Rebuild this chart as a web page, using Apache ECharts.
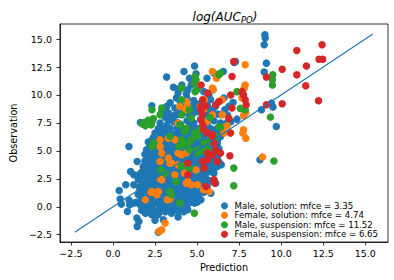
<!DOCTYPE html>
<html><head><meta charset="utf-8">
<script src="https://cdn.jsdelivr.net/npm/echarts@6/dist/echarts.min.js"></script>
<style>html,body{margin:0;padding:0;background:#fff}#c{width:394px;height:280px}</style>
</head><body><div id="c"></div>
<script>
const seriesNames = [
  'Male, solution: mfce = 3.35',
  'Female, solution: mfce = 4.74',
  'Male, suspension: mfce = 11.52',
  'Female, suspension: mfce = 6.65'
];
const tickValues = [-2.5, 0, 2.5, 5, 7.5, 10, 12.5, 15];
const diagLine = [-2.27, 15.45];

const maleSolution = [
  [9.03,15.38],[9.05,15.1],[8.99,14.49],[9.12,12.85],[8.99,12.05],[7.28,13.0],[7.2,12.9],[4.85,12.6],[4.22,12.1],[4.94,11.9],[3.19,11.6],[4.55,11.5],[5.59,11.5],[5.97,12.0],[6.56,12.1],
  [8.74,4.2],[8.83,8.68],[9.42,9.27],[9.51,8.92],[9.71,7.18],[0.95,5.39],[1.63,7.54],[2.31,9.03],
  [3.97,10.6],[3.87,10.17],[4.45,10.47],[4.36,10.1],[4.65,10.9],[5.95,10.47],[5.4,10.3],[5.7,10.0],[3.6,10.7],[4.1,10.9],
  [3.77,9.72],[3.4,9.3],[4.0,9.4],[4.4,9.7],[4.8,9.5],[5.1,9.2],[6.6,9.72],[7.14,9.33],[6.3,9.4],[5.8,9.6],[3.68,8.83],[4.2,9.0],[4.7,9.0],[5.6,9.1],[6.1,9.0],[6.9,9.0],[3.19,8.97],
  [2.9,8.5],[3.3,8.4],[3.7,8.2],[4.1,8.6],[4.5,8.3],[5.0,8.5],[5.4,8.2],[5.9,8.6],[6.2,8.3],[6.65,8.68],[6.8,8.2],[3.1,8.0],[3.5,7.9],
  [3.0,8.8],[3.9,8.8],[4.9,8.8],[5.7,8.8],[3.9,8.25],[4.7,8.25],[5.6,8.25],[6.4,8.25],
  [3.29,7.78],[2.8,7.5],[3.2,7.3],[3.6,7.6],[4.0,7.4],[4.4,7.7],[4.8,7.5],[5.2,7.8],[5.6,7.4],[6.0,7.7],[6.4,7.5],[7.37,7.84],[7.0,7.6],[6.6,7.2],[2.7,7.0],[3.0,7.0],
  [3.4,7.0],[3.8,7.0],[4.2,7.0],[4.6,7.0],[5.0,7.0],[5.4,7.0],[5.8,7.0],[6.2,7.0],[3.8,7.55],[4.6,7.55],[5.4,7.55],[6.8,7.55],
  [2.9,6.89],[2.5,6.6],[2.9,6.4],[3.3,6.7],[3.7,6.5],[4.1,6.9],[4.5,6.6],[4.9,6.8],[5.3,6.5],[5.7,6.9],[6.1,6.6],[6.4,6.29],[6.5,6.9],[2.4,6.2],[3.1,6.1],[3.5,6.2],
  [2.7,6.45],[3.1,6.45],[3.5,6.45],[3.9,6.45],[4.3,6.45],[4.7,6.45],[5.1,6.45],[5.5,6.45],[5.9,6.45],[6.3,6.45],
  [2.3,5.95],[2.6,5.95],[3.0,5.95],[3.4,5.95],[3.8,5.95],[4.2,5.95],[4.6,5.95],[5.0,5.95],[5.4,5.95],[5.8,5.95],[6.2,5.95],
  [2.1,5.8],[2.4,5.5],[2.8,5.7],[3.2,5.5],[3.6,5.8],[4.0,5.6],[4.4,5.9],[4.8,5.5],[5.2,5.8],[5.6,5.5],[6.0,5.8],[6.21,5.7],[6.3,5.2],[2.0,5.1],[2.6,5.1],[3.0,5.2],[3.4,5.1],[3.8,5.3],[4.2,5.1],[4.6,5.3],[5.0,5.1],[5.4,5.2],[5.8,5.1],
  [2.2,5.45],[2.6,5.45],[3.0,5.45],[3.4,5.45],[3.8,5.45],[4.2,5.45],[4.6,5.45],[5.0,5.45],[5.4,5.45],[5.8,5.45],
  [2.1,4.9],[2.5,4.9],[2.9,4.9],[3.3,4.9],[3.7,4.9],[4.1,4.9],[4.5,4.9],[4.9,4.9],[5.3,4.9],[5.7,4.9],[6.1,4.9],
  [1.9,4.7],[2.3,4.5],[2.7,4.8],[3.1,4.6],[3.5,4.8],[3.9,4.5],[4.3,4.7],[4.7,4.5],[5.1,4.7],[5.5,4.5],[5.9,4.8],[6.2,4.4],[1.44,4.05],[1.9,4.1],[2.3,4.2],[2.7,4.0],[3.1,4.2],[3.5,4.0],[3.9,4.2],[4.3,4.0],[4.7,4.2],[5.1,4.0],[5.5,4.2],[5.9,4.0],[6.3,4.0],
  [2.1,4.45],[2.5,4.45],[2.9,4.45],[3.3,4.45],[3.7,4.45],[4.1,4.45],[4.5,4.45],[4.9,4.45],[5.3,4.45],[5.7,4.45],[6.1,4.45],
  [2.0,3.9],[2.4,3.9],[2.8,3.9],[3.2,3.9],[3.6,3.9],[4.0,3.9],[4.4,3.9],[4.8,3.9],[5.2,3.9],[5.6,3.9],[6.0,3.9],
  [6.44,3.76],[1.8,3.6],[2.2,3.8],[2.6,3.5],[3.0,3.7],[3.4,3.5],[3.8,3.7],[4.2,3.5],[4.6,3.7],[5.0,3.5],[5.4,3.7],[5.8,3.5],[6.2,3.6],[1.05,3.16],[1.24,2.86],[1.7,3.1],[2.1,3.2],[2.5,3.0],[2.9,3.2],[3.3,3.0],[3.7,3.2],[4.1,3.0],[4.5,3.2],[4.9,3.0],[5.3,3.2],[5.72,3.16],[6.0,3.0],
  [2.0,3.4],[2.4,3.4],[2.8,3.4],[3.2,3.4],[3.6,3.4],[4.0,3.4],[4.4,3.4],[4.8,3.4],[5.2,3.4],[5.6,3.4],[6.0,3.4],
  [1.5,2.85],[1.9,2.85],[2.3,2.85],[2.7,2.85],[3.1,2.85],[3.5,2.85],[3.9,2.85],[4.3,2.85],[4.7,2.85],[5.1,2.85],[5.5,2.85],
  [1.5,2.47],[1.9,2.7],[2.3,2.5],[2.7,2.7],[3.1,2.5],[3.5,2.7],[3.9,2.5],[4.3,2.7],[4.7,2.5],[5.1,2.7],[5.5,2.5],[5.91,2.27],[0.76,1.97],[1.24,1.97],[1.8,2.1],[2.2,2.2],[2.6,2.0],[3.0,2.2],[3.4,2.0],[3.8,2.2],[4.2,2.0],[4.6,2.2],[5.0,2.0],[5.4,2.1],[6.1,2.1],
  [1.7,2.35],[2.1,2.35],[2.5,2.35],[2.9,2.35],[3.3,2.35],[3.7,2.35],[4.1,2.35],[4.5,2.35],[4.9,2.35],[5.3,2.35],[5.7,2.35],
  [1.6,1.8],[2.0,1.8],[2.4,1.8],[2.8,1.8],[3.2,1.8],[3.6,1.8],[4.0,1.8],[4.4,1.8],[4.8,1.8],[5.2,1.8],[5.6,1.8],
  [0.37,1.46],[1.6,1.6],[2.0,1.5],[2.4,1.7],[2.8,1.5],[3.2,1.7],[3.6,1.5],[4.0,1.7],[4.4,1.5],[4.8,1.7],[5.2,1.5],[5.82,1.22],[1.5,1.1],[1.9,1.1],[2.3,1.0],[2.7,1.1],[3.1,1.0],[3.5,1.1],[3.9,1.0],[4.3,1.1],[4.84,0.92],[5.0,1.2],
  [1.8,1.3],[2.2,1.3],[2.6,1.3],[3.0,1.3],[3.4,1.3],[3.8,1.3],[4.2,1.3],[4.6,1.3],[5.4,1.3],
  [1.7,0.85],[2.1,0.85],[2.5,0.85],[2.9,0.85],[3.3,0.85],[3.7,0.85],[4.1,0.85],[4.5,0.85],[5.1,0.85],
  [0.43,0.69],[0.95,0.6],[1.73,0.63],[2.1,0.6],[2.5,0.5],[2.9,0.6],[3.3,0.5],[3.7,0.6],[4.1,0.5],[4.5,0.6],[5.23,0.63],[0.5,0.24],[0.99,0.18],[1.24,0.33],[1.6,0.2],[2.0,0.1],[2.4,0.2],[2.8,0.1],[3.2,0.2],[3.6,0.1],[4.0,0.2],[4.4,0.1],[4.85,0.33],
  [1.4,0.4],[1.8,0.4],[2.2,0.4],[2.6,0.4],[3.0,0.4],[3.4,0.4],[3.8,0.4],[4.2,0.4],[4.6,0.4],[5.0,0.4],
  [1.7,-0.3],[2.1,-0.2],[2.5,-0.35],[2.9,-0.2],[3.3,-0.3],[3.7,-0.2],[4.1,-0.3],[4.45,-0.27],[1.93,-0.57],[2.31,-0.72],[3.48,-0.57],[3.87,-0.92],[3.0,-1.16],[2.5,-1.2],[2.7,-0.7],[0.86,-0.42],
  [1.9,-0.45],[2.3,-0.45],[3.1,-0.45],[3.5,-0.45],[3.9,-0.45],[4.2,-0.45],
  [1.42,-1.0],[1.54,-1.31],[1.44,-1.76],[2.7,-2.27]
];

const femaleSolution = [
  [5.91,12.1],[7.86,12.7],[6.15,11.5],[7.86,10.9],[7.8,10.6],[5.91,10.62],[5.95,10.5],[7.67,9.72],[7.71,10.0],[7.9,8.44],[7.76,8.14],[7.76,8.68],[7.76,6.89],[7.9,6.14],[7.72,6.59],[8.89,4.45],
  [6.5,8.23],[6.6,7.1],[6.79,7.25],[5.43,9.57],[5.2,8.97],[5.4,8.7],[4.32,8.68],[4.42,8.97],[4.36,9.42],[3.97,8.97],[3.87,7.48],
  [2.8,5.99],[2.8,5.4],[2.9,4.8],[2.8,4.05],[3.29,6.14],[3.29,4.35],[3.39,3.9],[3.87,4.8],[4.36,4.8],[3.48,3.9],[4.07,4.65],[3.87,3.76],[4.07,3.6],[4.26,3.0],
  [2.82,2.5],[2.9,2.41],[3.68,2.86],[2.26,1.31],[2.32,1.37],[2.7,1.37],[2.61,1.07],[1.93,0.63],[3.39,0.69],[3.23,0.63],[4.45,2.26],[4.36,2.1],[4.65,1.97],[5.04,1.97],[4.94,3.3],[5.39,1.52],[5.72,1.37],
  [3.1,-1.46],[2.9,-2.06],[2.74,-2.2],[3.68,6.0],[5.91,8.23],[5.33,7.03],[5.58,7.63],[6.5,9.57],[6.6,6.6]
];

const maleSuspension = [
  [1.83,7.54],[2.32,7.63],[2.28,7.33],[1.93,7.24],[1.75,7.4],[2.1,7.75],[2.4,7.9],[2.9,8.83],[2.8,8.23],[2.32,8.68],[2.41,5.7],[2.32,5.4],[3.39,6.29],
  [3.1,3.0],[3.39,1.37],[3.48,1.07],[3.74,2.27],[3.97,0.33],[4.84,-0.57],[2.84,3.3],
  [4.07,10.62],[4.07,9.57],[4.88,11.65],[4.94,11.36],[4.85,11.06],[4.88,10.3],[5.0,10.47],[6.3,11.8],[6.4,11.96],[7.37,10.3],
  [4.55,8.68],[4.1,8.23],[4.65,7.93],[4.36,7.03],[4.65,6.0],[3.93,5.4],[5.43,5.0],[5.04,4.8],[6.1,6.2],[6.4,7.12],[5.76,7.99],[7.57,8.8],[7.86,8.68],
  [3.97,7.33],[4.26,6.74],[4.1,5.99],[4.45,5.7],[4.55,5.1],[5.04,5.1],[5.43,5.7],[5.62,5.1],[5.14,6.89],[4.85,6.59],[5.04,6.29],[5.82,5.84],[6.11,6.29],[6.3,7.18],[4.07,3.6],[4.55,3.46],[4.16,5.55],
  [7.18,3.46],[7.18,1.88],[9.5,11.8],[9.48,11.36],[9.48,10.9],[9.36,8.02],[9.57,4.09]
];

const femaleSuspension = [
  [7.18,13.0],[10.93,13.98],[12.43,14.49],[12.25,13.2],[12.47,13.2],[11.5,12.6],[10.06,12.31],[10.93,11.8],[11.46,10.82],[12.22,9.48],[10.06,9.21],[9.12,11.6],[9.12,9.12],
  [7.08,11.65],[5.24,10.9],[5.62,10.17],[5.33,9.57],[5.24,8.97],[6.11,9.12],[6.3,9.42],[7.67,10.3],[7.0,10.0],[7.76,10.0],[7.86,9.57],[7.92,9.12],[7.08,8.83],[6.89,7.93],
  [5.24,8.68],[5.24,7.78],[5.33,7.33],[5.4,6.9],[5.62,6.59],[5.91,6.29],[6.01,5.7],[6.11,5.1],[5.62,4.8],[5.91,4.65],[6.4,4.8],[6.21,4.05],[6.95,4.56],[5.33,4.05],[5.43,3.46],[5.62,4.2],
  [4.45,3.9],[4.45,2.86],[6.01,2.41],[6.05,2.12],[5.53,1.82],[6.99,6.59],[5.91,6.44],[5.5,9.0],[5.3,8.3]
];

const palette = ['#1f77b4', '#ff7f0e', '#2ca02c', '#d62728'];
const groups = [maleSolution, femaleSolution, maleSuspension, femaleSuspension];
const font = 'DejaVu Sans';
const fmt = v => (v < 0 ? '\u2212' : '') + Math.abs(v).toFixed(1);

const chart = echarts.init(document.getElementById('c'), null, {renderer: 'svg'});
const axisCommon = {
  type: 'value', min: -3.15, max: 16.35,
  splitLine: {show: false},
  axisLine: {show: true, onZero: false, lineStyle: {color: '#000', width: 0.8}},
  axisTick: {show: true, inside: false, length: 3.5, lineStyle: {color: '#000', width: 0.8}, customValues: tickValues},
  axisLabel: {color: '#000', fontFamily: font, fontSize: 9.5, customValues: tickValues, formatter: fmt},
  nameLocation: 'middle',
  nameTextStyle: {color: '#000', fontFamily: font, fontSize: 9.7}
};
chart.setOption({
  animation: false,
  backgroundColor: '#fff',
  title: {
    text: '{a|log(AUC}{b|PO}{a|)}', left: 220, top: 4, textAlign: 'center',
    textStyle: {fontWeight: 'normal', rich: {
      a: {fontFamily: font, fontStyle: 'italic', fontWeight: 'normal', fontSize: 12, color: '#000'},
      b: {fontFamily: font, fontStyle: 'italic', fontWeight: 'normal', fontSize: 8.5, color: '#000', padding: [6, 0, 0, 0]}
    }}
  },
  grid: {left: 53, right: 6, top: 24, bottom: 38, show: true, borderColor: '#000', borderWidth: 0.8},
  xAxis: Object.assign({}, axisCommon, {name: 'Prediction', nameGap: 19, axisLabel: Object.assign({}, axisCommon.axisLabel, {margin: 6})}),
  yAxis: Object.assign({}, axisCommon, {name: 'Observation', nameGap: 35, axisLabel: Object.assign({}, axisCommon.axisLabel, {margin: 8})}),
  legend: {
    data: seriesNames, orient: 'vertical', left: 216, top: 196,
    itemWidth: 10, itemHeight: 7, itemGap: 0, icon: 'circle',
    textStyle: {fontFamily: font, fontSize: 8.6, color: '#000', lineHeight: 9.5}
  },
  series: groups.map((g, i) => ({
    type: 'scatter', name: seriesNames[i], data: g, symbolSize: 7.5,
    itemStyle: {color: palette[i], opacity: 1}, z: 2
  })).concat([{
    type: 'line', data: [[diagLine[0], diagLine[0]], [diagLine[1], diagLine[1]]],
    showSymbol: false, symbol: 'none', lineStyle: {color: '#1f77b4', width: 1.2}, z: 5, silent: true
  }])
});
</script></body></html>
